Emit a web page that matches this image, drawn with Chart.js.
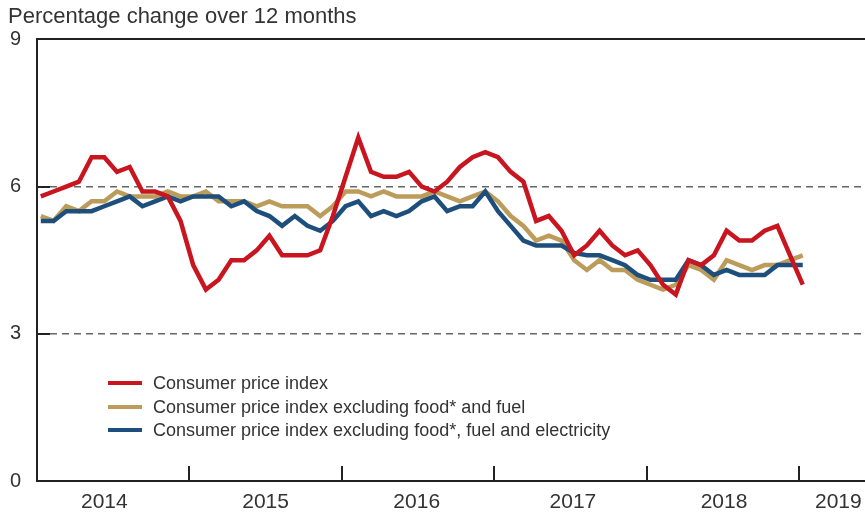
<!DOCTYPE html>
<html>
<head>
<meta charset="utf-8">
<script src="https://cdn.jsdelivr.net/npm/chart.js@4"></script>
<style>
  body { margin: 0; background: #fff; }
  #wrap { position: relative; width: 865px; height: 515px; }
  #legend { position: absolute; left: 108px; top: 372px; font: 18px "Liberation Sans", Arial, sans-serif; color: #333; }
  #legend div { height: 23.5px; line-height: 23.5px; white-space: nowrap; }
  #legend span.sw { display: inline-block; width: 34px; height: 4px; vertical-align: middle; margin-right: 11px; position: relative; top: -1px; }
</style>
</head>
<body>
<div id="wrap">
  <canvas id="chart" width="865" height="515"></canvas>
  <div id="legend"></div>
</div>
<script>
// monthly, Jan 2014 .. Jan 2019 (index 0 = Jan 2014)
const years = ["2014", "2015", "2016", "2017", "2018", "2019"];
const yTicks = [0, 3, 6, 9];

const cpi = [5.8, 5.9, 6.0, 6.1, 6.6, 6.6, 6.3, 6.4, 5.9, 5.9,
  5.8, 5.3, 4.4, 3.9, 4.1, 4.5, 4.5, 4.7, 5.0, 4.6,
  4.6, 4.6, 4.7, 5.4, 6.2, 7.0, 6.3, 6.2, 6.2, 6.3,
  6.0, 5.9, 6.1, 6.4, 6.6, 6.7, 6.6, 6.3, 6.1, 5.3,
  5.4, 5.1, 4.6, 4.8, 5.1, 4.8, 4.6, 4.7, 4.4, 4.0,
  3.8, 4.5, 4.4, 4.6, 5.1, 4.9, 4.9, 5.1, 5.2, 4.6, 4.0];

const cpiExFoodFuel = [5.4, 5.3, 5.6, 5.5, 5.7, 5.7, 5.9, 5.8, 5.8, 5.8,
  5.9, 5.8, 5.8, 5.9, 5.7, 5.7, 5.7, 5.6, 5.7, 5.6,
  5.6, 5.6, 5.4, 5.6, 5.9, 5.9, 5.8, 5.9, 5.8, 5.8,
  5.8, 5.9, 5.8, 5.7, 5.8, 5.9, 5.7, 5.4, 5.2, 4.9,
  5.0, 4.9, 4.5, 4.3, 4.5, 4.3, 4.3, 4.1, 4.0, 3.9,
  4.0, 4.4, 4.3, 4.1, 4.5, 4.4, 4.3, 4.4, 4.4, 4.5, 4.6];

const cpiExFoodFuelElec = [5.3, 5.3, 5.5, 5.5, 5.5, 5.6, 5.7, 5.8, 5.6, 5.7,
  5.8, 5.7, 5.8, 5.8, 5.8, 5.6, 5.7, 5.5, 5.4, 5.2,
  5.4, 5.2, 5.1, 5.3, 5.6, 5.7, 5.4, 5.5, 5.4, 5.5,
  5.7, 5.8, 5.5, 5.6, 5.6, 5.9, 5.5, 5.2, 4.9, 4.8,
  4.8, 4.8, 4.65, 4.6, 4.6, 4.5, 4.4, 4.2, 4.1, 4.1,
  4.1, 4.5, 4.4, 4.2, 4.3, 4.2, 4.2, 4.2, 4.4, 4.4, 4.4];

const seriesNames = [
  "Consumer price index",
  "Consumer price index excluding food* and fuel",
  "Consumer price index excluding food*, fuel and electricity"
];

const RED = "#c8151f", GOLD = "#bb9c5a", BLUE = "#1e4f7c";
const FONT = "'Liberation Sans', Arial, sans-serif";

const toPoints = arr => arr.map((v, i) => ({ x: i, y: v }));

// year boundaries sit just before each January point
const boundaries = [1, 2, 3, 4, 5].map(k => 12 * k - 0.3);
const labelPos = [5.0, 17.7, 29.6, 41.9, 53.8, 62.8];

const axisMarks = {
  id: "axisMarks",
  afterDatasetsDraw(c) {
    const { ctx, scales: { x, y } } = c;
    ctx.save();
    ctx.strokeStyle = "#222";
    ctx.lineWidth = 2;
    ctx.beginPath();
    boundaries.forEach(b => {
      const px = Math.round(x.getPixelForValue(b));
      ctx.moveTo(px, y.bottom);
      ctx.lineTo(px, y.bottom - 15);
    });
    [3, 6].forEach(v => {
      const py = Math.round(y.getPixelForValue(v));
      ctx.moveTo(x.left, py);
      ctx.lineTo(x.left + 13, py);
    });
    ctx.stroke();
    ctx.restore();
  }
};

new Chart(document.getElementById("chart"), {
  type: "line",
  data: {
    datasets: [
      { label: seriesNames[0], data: toPoints(cpi), borderColor: RED },
      { label: seriesNames[2], data: toPoints(cpiExFoodFuelElec), borderColor: BLUE },
      { label: seriesNames[1], data: toPoints(cpiExFoodFuel), borderColor: GOLD }
    ].map(d => Object.assign(d, { borderWidth: 4.5, pointRadius: 0, tension: 0, fill: false }))
  },
  options: {
    responsive: false,
    animation: false,
    layout: { padding: { left: 8, right: 0, top: 0, bottom: 0 } },
    plugins: {
      legend: { display: false },
      tooltip: { enabled: false },
      title: {
        display: true,
        text: "Percentage change over 12 months",
        align: "start",
        color: "#333",
        font: { family: FONT, size: 22, weight: "normal" },
        padding: { top: 4, bottom: 9 }
      }
    },
    scales: {
      x: {
        type: "linear",
        min: -0.3,
        max: 64.9,
        afterBuildTicks: s => { s.ticks = labelPos.map(v => ({ value: v })); },
        afterFit: s => { s.height = 34; s.paddingRight = 0; s.paddingLeft = 0; },
        ticks: {
          autoSkip: false,
          maxRotation: 0,
          padding: 9,
          color: "#333",
          font: { family: FONT, size: 21 },
          callback: (v, i) => years[i]
        },
        grid: { display: false, drawTicks: false },
        border: { display: true, color: "#222", width: 2 }
      },
      y: {
        min: 0,
        max: 9,
        afterBuildTicks: s => { s.ticks = yTicks.map(v => ({ value: v })); },
        afterFit: s => { s.width = 29; },
        ticks: {
          padding: 16,
          color: "#333",
          font: { family: FONT, size: 20 }
        },
        grid: {
          drawTicks: false,
          color: c => c.tick && c.tick.value === 9 ? "#222" : (c.tick && c.tick.value === 0 ? "rgba(0,0,0,0)" : "#666"),
          lineWidth: c => c.tick && c.tick.value === 9 ? 2 : 1.5
        },
        border: {
          display: true,
          color: "#222",
          width: 2,
          dash: c => c.tick && (c.tick.value === 3 || c.tick.value === 6) ? [7, 5] : []
        }
      }
    }
  },
  plugins: [axisMarks]
});

// legend (order as in the original)
const legendEl = document.getElementById("legend");
[[seriesNames[0], RED], [seriesNames[1], GOLD], [seriesNames[2], BLUE]].forEach(([name, col]) => {
  const row = document.createElement("div");
  row.innerHTML = '<span class="sw" style="background:' + col + '"></span>' + name;
  legendEl.appendChild(row);
});
</script>
</body>
</html>
